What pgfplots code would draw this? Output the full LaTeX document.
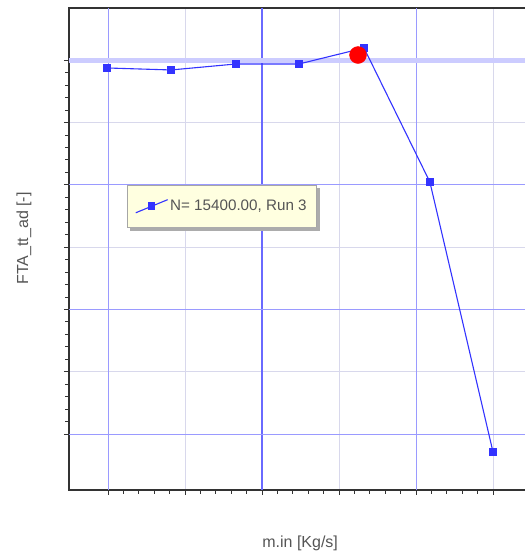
\documentclass[border=0pt]{standalone}
\usepackage{pgfplots}
\pgfplotsset{compat=1.18}
\usepackage{fontspec}
\setmainfont{Liberation Sans}
\definecolor{lineblue}{HTML}{3333FF}
\definecolor{gridblue}{HTML}{9A9AFF}
\definecolor{gridstrong}{HTML}{6A6AFF}
\definecolor{gridlight}{HTML}{D8D8EC}
\definecolor{hiband}{HTML}{CCCCFF}
\definecolor{legfill}{HTML}{FFFFE0}
\definecolor{txt}{HTML}{555555}
\begin{document}
\begin{tikzpicture}
\begin{axis}[
  at={(69pt,63pt)}, anchor=south west,
  x=77pt, y=62.3pt,
  xmin=0.4935, xmax=6.45, ymin=-0.899, ymax=6.838,
  xtick={1,2,3,4,5,6}, ytick={0,1,2,3,4,5,6},
  xticklabels={}, yticklabels={},
  minor x tick num=4, minor y tick num=4,
  tick align=outside, tick pos=left,
  major tick length=5pt, minor tick length=4pt,
  tick style={black!80, line width=0.8pt},
  grid=major,
  major grid style={color=gridlight, line width=0.9pt},
  axis line style={draw=black!80, line width=1.6pt},
  font=\fontsize{16}{18}\selectfont,
  xlabel={m.in [Kg/s]}, ylabel={FTA\_tt\_ad [-]},
  x label style={at={(axis description cs:0.504,-0.11)}, anchor=center, text=txt},
  y label style={at={(axis description cs:-0.098,0.522)}, anchor=center, text=txt},
  legend style={at={(axis cs:1.247,3.997)}, anchor=north west, fill=legfill, draw=gray!70,
    text=txt, inner xsep=8pt, inner ysep=13pt, name=leg,
    font=\fontsize{15.2}{17}\selectfont},
  legend image code/.code={\draw[mark repeat=2,mark phase=2,#1] plot coordinates {(0cm,-0.23cm) (0.56cm,0cm) (1.12cm,0.23cm)};},
]
\draw[gridblue, line width=0.9pt] (axis cs:1,-0.899) -- (axis cs:1,6.838);
\draw[gridblue, line width=0.9pt] (axis cs:5,-0.899) -- (axis cs:5,6.838);
\draw[gridstrong, line width=1.1pt] (axis cs:3,-0.899) -- (axis cs:3,6.838);
\draw[gridblue, line width=0.9pt] (axis cs:0.4935,0) -- (axis cs:6.45,0);
\draw[gridblue, line width=0.9pt] (axis cs:0.4935,2) -- (axis cs:6.45,2);
\draw[gridblue, line width=0.9pt] (axis cs:0.4935,4) -- (axis cs:6.45,4);
\draw[hiband, line width=5pt] (axis cs:0.4935,6) -- (axis cs:6.45,6);
\addplot[color=lineblue, line width=1.1pt, mark=square*, mark size=3.2pt, mark options={fill=lineblue}]
  coordinates {(0.987,5.875) (1.818,5.843) (2.662,5.939) (3.480,5.939) (4.325,6.196) (5.180,4.045) (6.000,-0.289)};
\addlegendentry{N= 15400.00, Run 3}
\addplot[forget plot, only marks, mark=*, mark size=8.5pt, color=red, mark options={fill=red}]
  coordinates {(4.247,6.083)};
\end{axis}
\fill[gray!65] ([xshift=3pt,yshift=-3.5pt]leg.south west) rectangle ([xshift=3pt]leg.south east);
\fill[gray!65] ([yshift=-3.5pt]leg.north east) rectangle ([xshift=3pt,yshift=-3.5pt]leg.south east);
\pgfresetboundingbox
\useasboundingbox (0,0) rectangle (524pt,553pt);
\end{tikzpicture}
\end{document}
